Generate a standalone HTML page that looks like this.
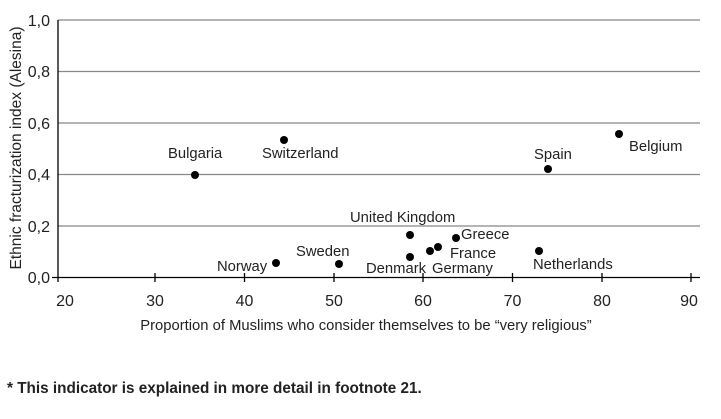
<!DOCTYPE html>
<html><head><meta charset="utf-8"><style>
body{margin:0;background:#fff;width:721px;height:414px;overflow:hidden;font-family:"Liberation Sans",sans-serif}
</style></head><body>
<svg width="721" height="414" xmlns="http://www.w3.org/2000/svg" font-family="Liberation Sans, sans-serif">
<g stroke="#888" stroke-width="1.2">
<line x1="58" y1="20" x2="700" y2="20"/>
<line x1="58" y1="71.5" x2="700" y2="71.5"/>
<line x1="58" y1="123" x2="700" y2="123"/>
<line x1="58" y1="174.5" x2="700" y2="174.5"/>
<line x1="58" y1="226" x2="700" y2="226"/>
</g>
<g stroke="#000" stroke-width="1.3">
<line x1="58" y1="20" x2="58" y2="282"/>
<line x1="52" y1="277.5" x2="700" y2="277.5"/>
<line x1="155" y1="273" x2="155" y2="282"/>
<line x1="244.5" y1="273" x2="244.5" y2="282"/>
<line x1="334" y1="273" x2="334" y2="282"/>
<line x1="423" y1="273" x2="423" y2="282"/>
<line x1="512.5" y1="273" x2="512.5" y2="282"/>
<line x1="602" y1="273" x2="602" y2="282"/>
<line x1="691" y1="273" x2="691" y2="282"/>
</g>
<g font-size="16" fill="#222" text-anchor="end">
<text x="50" y="26">1,0</text><text x="50" y="77">0,8</text><text x="50" y="129">0,6</text>
<text x="50" y="180">0,4</text><text x="50" y="232">0,2</text><text x="50" y="283">0,0</text>
</g>
<g font-size="16" fill="#222" text-anchor="middle">
<text x="65" y="306">20</text><text x="155" y="306">30</text><text x="244.5" y="306">40</text><text x="334" y="306">50</text>
<text x="423" y="306">60</text><text x="512.5" y="306">70</text><text x="602" y="306">80</text><text x="689" y="306">90</text>
</g>
<text x="366" y="330" font-size="14.8" fill="#222" text-anchor="middle">Proportion of Muslims who consider themselves to be “very religious”</text>
<text transform="translate(21,148) rotate(-90)" font-size="15.5" fill="#222" text-anchor="middle">Ethnic fracturization index (Alesina)</text>
<g fill="#000">
<circle cx="195" cy="175" r="4"/><circle cx="284" cy="140" r="4"/><circle cx="276" cy="263" r="4"/>
<circle cx="339" cy="264" r="4"/><circle cx="410" cy="235" r="4"/><circle cx="410" cy="257" r="4"/>
<circle cx="430" cy="251" r="4"/><circle cx="438" cy="247" r="4"/><circle cx="456" cy="238" r="4"/>
<circle cx="539" cy="251" r="4"/><circle cx="548" cy="169" r="4"/><circle cx="619" cy="134" r="4"/>
</g>
<g font-size="14.8" fill="#222">
<text x="168" y="158">Bulgaria</text><text x="262" y="158">Switzerland</text>
<text x="217" y="271">Norway</text><text x="296" y="256">Sweden</text>
<text x="350" y="222">United Kingdom</text><text x="461" y="239">Greece</text>
<text x="450" y="258">France</text><text x="366" y="273">Denmark</text><text x="432" y="273">Germany</text>
<text x="533" y="269">Netherlands</text><text x="534" y="159">Spain</text><text x="629" y="151">Belgium</text>
</g>
<text x="7" y="393" font-size="15.3" font-weight="bold" fill="#222">* This indicator is explained in more detail in footnote 21.</text>
</svg>
</body></html>
